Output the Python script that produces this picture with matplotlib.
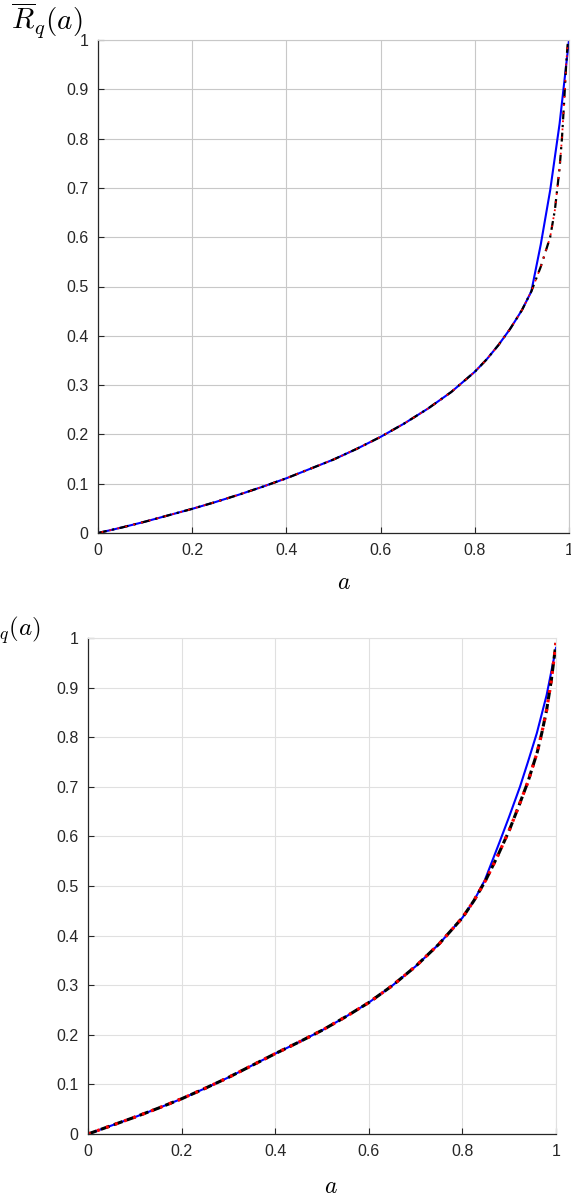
import matplotlib
matplotlib.use("Agg")
import matplotlib.pyplot as plt

plt.rcParams['font.family'] = ['Liberation Sans', 'DejaVu Sans']
plt.rcParams['mathtext.fontset'] = 'cm'

# top panel, values
a_top = [0, 0.05, 0.1, 0.15, 0.2, 0.25, 0.3, 0.35, 0.4, 0.45, 0.5, 0.55, 0.6, 0.65, 0.7,
         0.75, 0.8, 0.825, 0.85, 0.875, 0.9, 0.92, 0.94, 0.96, 0.97, 0.98, 0.985, 0.99, 0.994, 0.997, 1.0]
r_top = [0, 0.011, 0.023, 0.036, 0.049, 0.063, 0.078, 0.094, 0.111, 0.13, 0.149, 0.171, 0.195, 0.222, 0.252,
         0.286, 0.327, 0.352, 0.381, 0.414, 0.452, 0.49, 0.54, 0.60, 0.655, 0.74, 0.80, 0.88, 0.95, 0.99, 1.0]
a_top_blue = [0, 0.05, 0.1, 0.15, 0.2, 0.25, 0.3, 0.35, 0.4, 0.45, 0.5, 0.55, 0.6, 0.65, 0.7,
              0.75, 0.8, 0.825, 0.85, 0.875, 0.9, 0.92, 0.94, 0.96, 0.98, 1.0]
r_top_blue = [0, 0.011, 0.023, 0.036, 0.049, 0.063, 0.078, 0.094, 0.111, 0.13, 0.149, 0.171, 0.195, 0.222, 0.252,
              0.286, 0.327, 0.352, 0.381, 0.414, 0.452, 0.49, 0.585, 0.695, 0.83, 1.0]

# bottom panel
a_bot = [0, 0.05, 0.1, 0.15, 0.2, 0.25, 0.3, 0.35, 0.4, 0.45, 0.5, 0.55, 0.6, 0.65, 0.7,
         0.75, 0.8, 0.825, 0.85, 0.875, 0.9, 0.92, 0.94, 0.96, 0.97, 0.98, 0.99, 1.0]
r_bot = [0, 0.017, 0.034, 0.052, 0.071, 0.092, 0.114, 0.138, 0.162, 0.185, 0.209, 0.236, 0.265, 0.299, 0.338,
         0.383, 0.436, 0.471, 0.512, 0.56, 0.612, 0.66, 0.71, 0.77, 0.81, 0.855, 0.915, 0.99]
a_bot_blue = [0, 0.05, 0.1, 0.15, 0.2, 0.25, 0.3, 0.35, 0.4, 0.45, 0.5, 0.55, 0.6, 0.65, 0.7,
              0.75, 0.8, 0.825, 0.848, 0.88, 0.9, 0.923, 0.94, 0.959, 0.98, 1.0]
r_bot_blue = [0, 0.017, 0.034, 0.052, 0.071, 0.092, 0.114, 0.138, 0.162, 0.185, 0.209, 0.236, 0.265, 0.299, 0.338,
              0.383, 0.436, 0.471, 0.512, 0.59, 0.64, 0.70, 0.75, 0.808, 0.885, 0.98]

xticks = [0, 0.2, 0.4, 0.6, 0.8, 1]
yticks = [0, 0.1, 0.2, 0.3, 0.4, 0.5, 0.6, 0.7, 0.8, 0.9, 1]


def fmt(v):
    s = ('%.1f' % v)
    if s.endswith('.0'):
        s = s[:-2]
    return s


def style(ax, gridc):
    ax.set_xlim(0, 1)
    ax.set_ylim(0, 1)
    ax.set_xticks(xticks)
    ax.set_yticks(yticks)
    ax.set_xticklabels([fmt(v) for v in xticks])
    ax.set_yticklabels([fmt(v) for v in yticks])
    ax.tick_params(direction='in', length=4, width=0.8, labelsize=11.5,
                   colors='#262626', pad=7)
    ax.grid(True, color=gridc, lw=0.8)
    ax.set_axisbelow(True)
    for s in ['top', 'right']:
        ax.spines[s].set_color(gridc)
        ax.spines[s].set_linewidth(0.8)
    for s in ['left', 'bottom']:
        ax.spines[s].set_color('#262626')
        ax.spines[s].set_linewidth(0.9)


def px(x, y):
    return x / 571, 1 - y / 1198


fig = plt.figure(figsize=(5.71, 11.98), dpi=100)

ax1 = fig.add_axes([98 / 571, 1 - 533 / 1198, 471 / 571, 493 / 1198])
style(ax1, '#c8c8c8')
ax1.plot(a_top_blue, r_top_blue, color='blue', lw=1.5)
ax1.plot(a_top, r_top, color='black', lw=1.6, ls=(0, (4, 2.5, 1, 2.5)))
ax1.plot(a_top, r_top, color='red', lw=1.3, ls=(2.5, (1, 3.5)))

ax2 = fig.add_axes([88 / 571, 1 - 1134 / 1198, 468 / 571, 496 / 1198])
style(ax2, '#e0e0e0')
ax2.plot(a_bot_blue, r_bot_blue, color='blue', lw=1.5)
ax2.plot(a_bot, r_bot, color='black', lw=2.2, ls=(0, (3, 1.5)))
ax2.plot(a_bot, r_bot, color='red', lw=2.3, ls=(0, (0.9, 2.1)))

# y labels (the lower one runs off the left edge, as in the original)
fig.text(*px(82, 20), r'$\overline{R}_q(a)$', fontsize=21, ha='right', va='center')
fig.text(*px(41, 628), r'$\overline{R}_q(a)$', fontsize=18, ha='right', va='center')

fig.text(*px(344, 583), r'$a$', fontsize=17, ha='center', va='center')
fig.text(*px(331, 1187), r'$a$', fontsize=17, ha='center', va='center')

fig.savefig('out.png', dpi=100)
